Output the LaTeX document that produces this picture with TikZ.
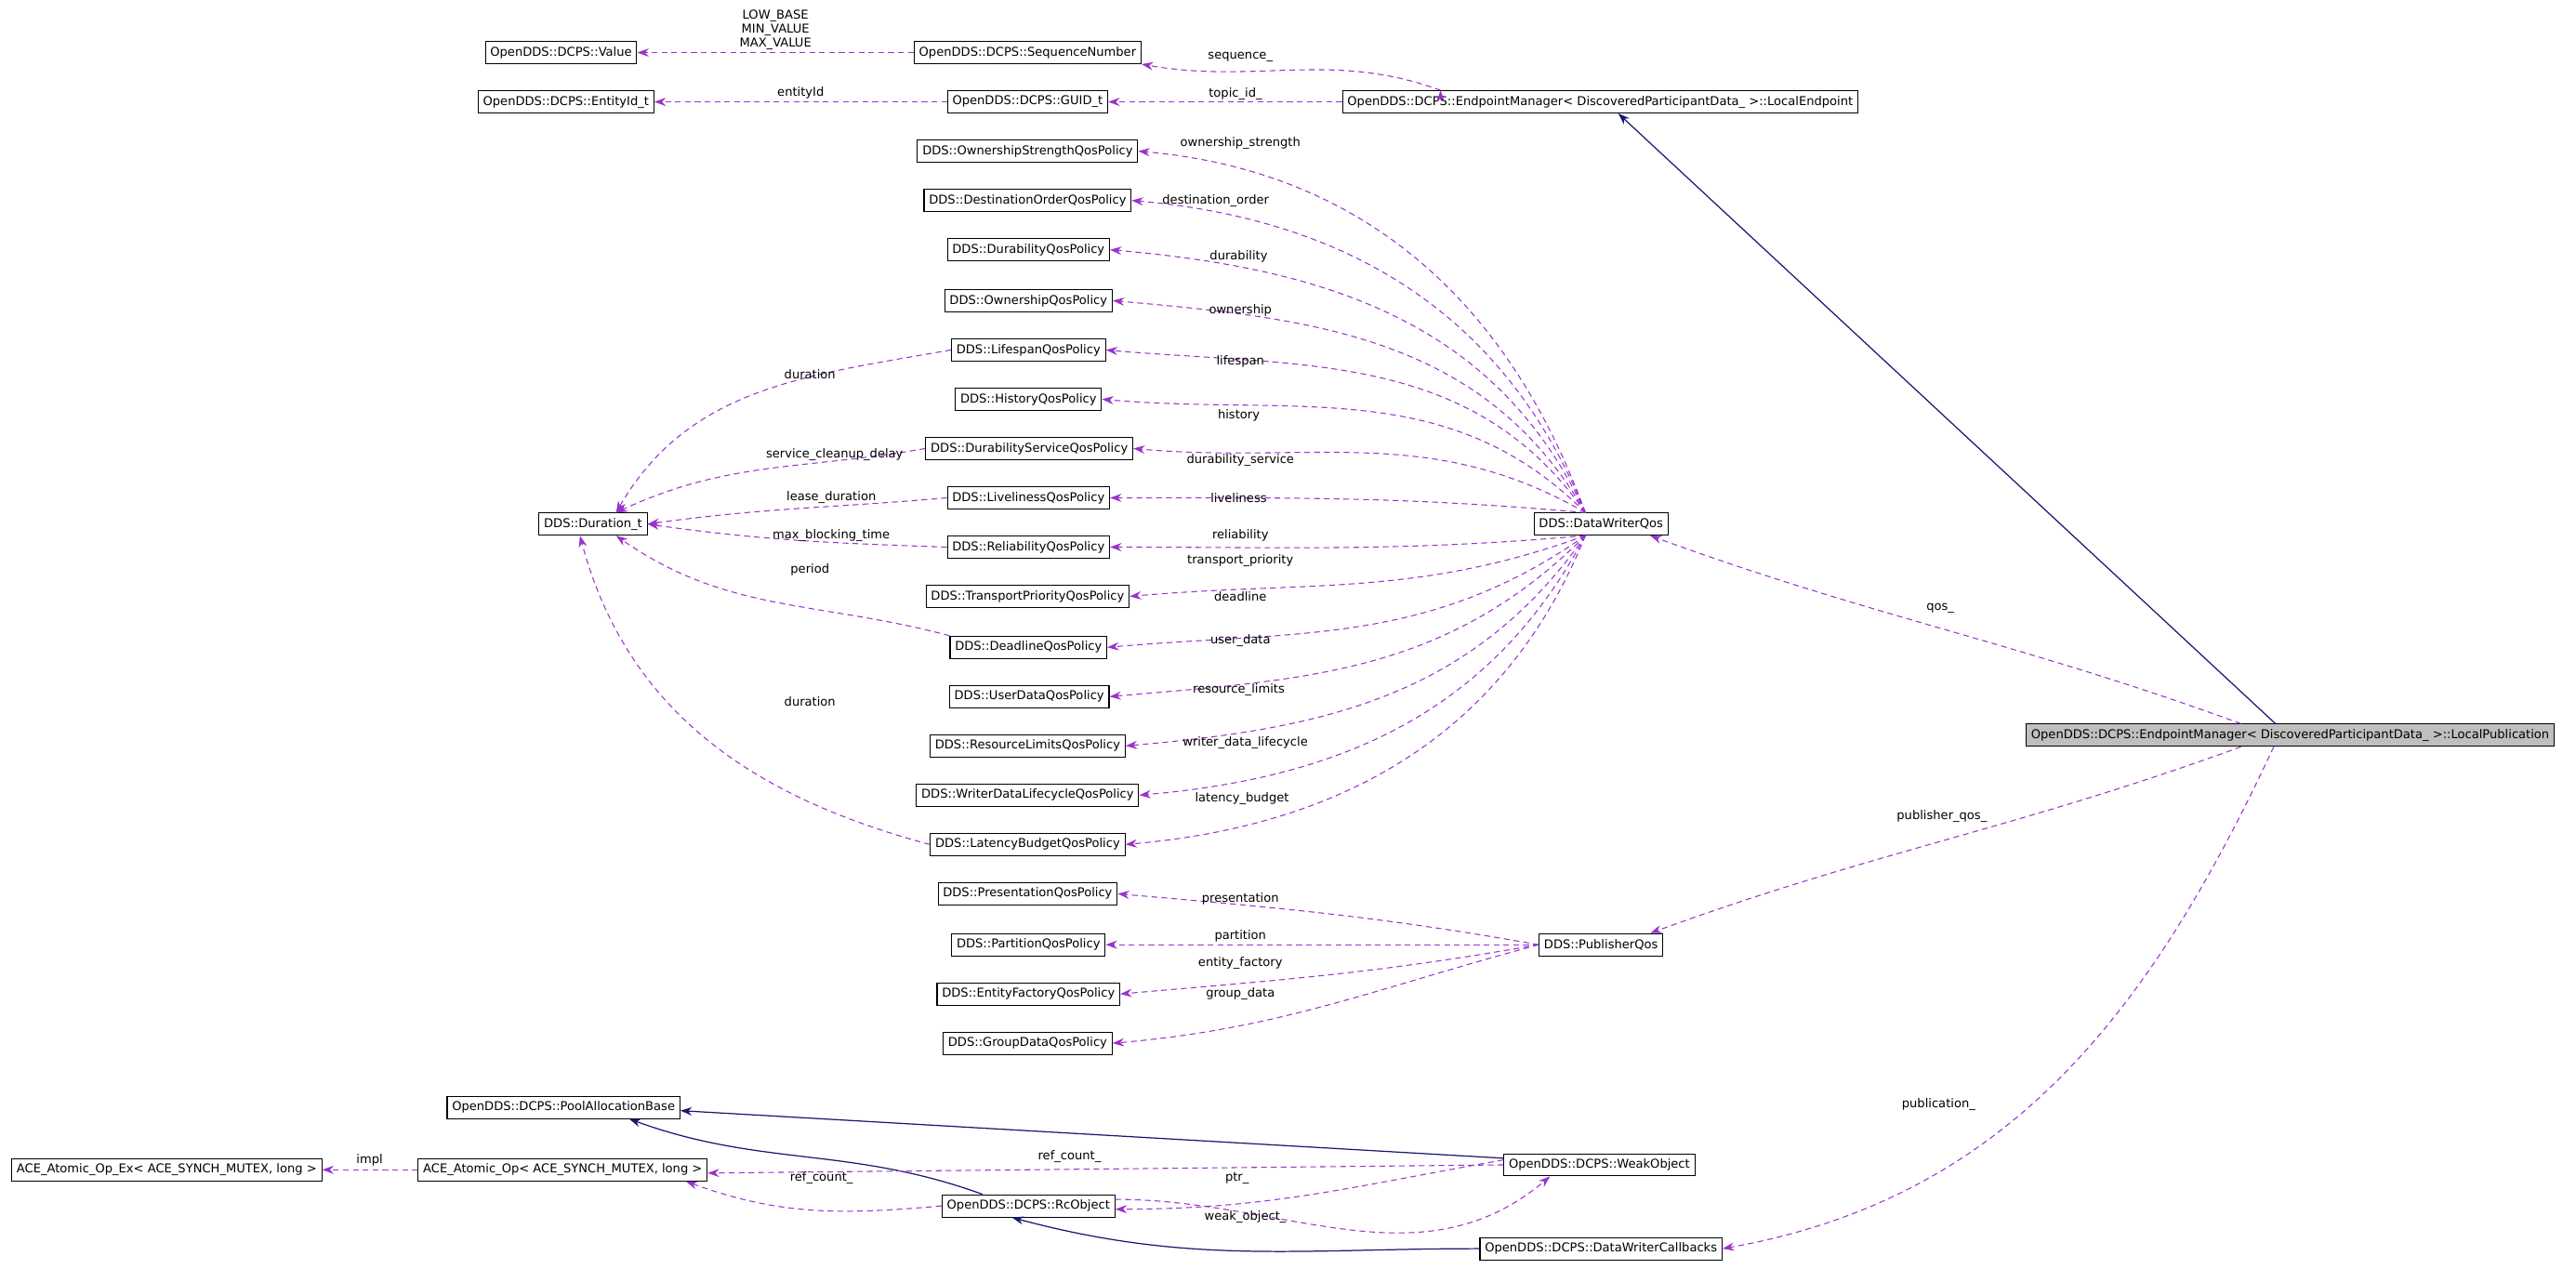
\documentclass[tikz,border=0pt]{standalone}
\usepackage{fontspec}
\setmainfont{DejaVu Sans}
\usetikzlibrary{arrows.meta}
\definecolor{usec}{HTML}{9A32CD}
\definecolor{inhc}{HTML}{191970}
\tikzset{
 box/.style={draw=black,line width=0.6pt,minimum height=13.5pt,inner xsep=3pt,inner ysep=1pt,font=\fontsize{7.4}{8.5}\selectfont,fill=white},
 use/.style={draw=usec,dashed,dash pattern=on 3.5pt off 2.5pt,line width=0.6pt,-{Stealth[length=7pt,width=5pt]},fill=none},
 inh/.style={draw=inhc,line width=0.7pt,-{Stealth[length=7pt,width=5pt]}},
 lab/.style={font=\fontsize{7.4}{8.5}\selectfont,inner sep=0.5pt,align=center}
}
\begin{document}
\begin{tikzpicture}[x=1pt,y=-1pt]
\useasboundingbox (0,0) rectangle (1568,772);
\node[box] (val) at (341.5,32) {OpenDDS::DCPS::Value};
\node[box] (seq) at (625.5,32) {OpenDDS::DCPS::SequenceNumber};
\node[box] (eid) at (344.5,62) {OpenDDS::DCPS::EntityId\_t};
\node[box] (guid) at (625.5,62) {OpenDDS::DCPS::GUID\_t};
\node[box] (lep) at (974,62) {OpenDDS::DCPS::EndpointManager< DiscoveredParticipantData\_ >::LocalEndpoint};
\node[box] (p1) at (625.5,92) {DDS::OwnershipStrengthQosPolicy};
\node[box] (p2) at (625.5,122) {DDS::DestinationOrderQosPolicy};
\node[box] (p3) at (626,152) {DDS::DurabilityQosPolicy};
\node[box] (p4) at (626,183) {DDS::OwnershipQosPolicy};
\node[box] (p5) at (626,213) {DDS::LifespanQosPolicy};
\node[box] (p6) at (626,243) {DDS::HistoryQosPolicy};
\node[box] (p7) at (626.5,273) {DDS::DurabilityServiceQosPolicy};
\node[box] (p8) at (626,303) {DDS::LivelinessQosPolicy};
\node[box] (p9) at (626,333) {DDS::ReliabilityQosPolicy};
\node[box] (p10) at (625.5,363) {DDS::TransportPriorityQosPolicy};
\node[box] (p11) at (626,394) {DDS::DeadlineQosPolicy};
\node[box] (p12) at (626.5,424) {DDS::UserDataQosPolicy};
\node[box] (p13) at (625.5,454) {DDS::ResourceLimitsQosPolicy};
\node[box] (p14) at (625.5,484) {DDS::WriterDataLifecycleQosPolicy};
\node[box] (p15) at (625.5,514) {DDS::LatencyBudgetQosPolicy};
\node[box] (dur) at (361,319) {DDS::Duration\_t};
\node[box] (dwq) at (974.5,319) {DDS::DataWriterQos};
\node[box,fill={rgb,255:red,191;green,191;blue,191}] (lpub) at (1394,447.5) {OpenDDS::DCPS::EndpointManager< DiscoveredParticipantData\_ >::LocalPublication};
\node[box] (q1) at (625.5,544) {DDS::PresentationQosPolicy};
\node[box] (q2) at (626,575) {DDS::PartitionQosPolicy};
\node[box] (q3) at (626,605) {DDS::EntityFactoryQosPolicy};
\node[box] (q4) at (625.5,635) {DDS::GroupDataQosPolicy};
\node[box] (pub) at (974.5,575) {DDS::PublisherQos};
\node[box] (pool) at (343,674) {OpenDDS::DCPS::PoolAllocationBase};
\node[box] (aex) at (101.5,712) {ACE\_Atomic\_Op\_Ex< ACE\_SYNCH\_MUTEX, long >};
\node[box] (aop) at (342.5,712) {ACE\_Atomic\_Op< ACE\_SYNCH\_MUTEX, long >};
\node[box] (rc) at (626,734) {OpenDDS::DCPS::RcObject};
\node[box] (weak) at (973.5,709) {OpenDDS::DCPS::WeakObject};
\node[box] (dwc) at (974.5,760) {OpenDDS::DCPS::DataWriterCallbacks};

% top
\draw[use] (seq) -- (val) node[lab,midway,above=1pt] {LOW\_BASE\\MIN\_VALUE\\MAX\_VALUE};
\draw[use] (guid) -- (eid) node[lab,midway,above=1pt] {entityId};
\draw[use] (lep.north west) ++(60,0) coordinate (lepa);
\draw[use] (lepa) to[out=160,in=-10] (seq.south east);
\node[lab] at (755,35) {sequence\_};
\draw[use] (lep) -- (guid);
\node[lab] at (752,57) {topic\_id\_};
\draw[inh] (lpub.north) ++(-9,0) coordinate (lpa) (lpa) -- ([xshift=11pt]lep.south);

% dwq fan
\coordinate (dwa) at (965,312);
\coordinate (dwb) at (965,326);
\draw[use] (dwa) to[out=110,in=-5] (p1.east) ; \node[lab] at (755,87) {ownership\_strength};
\draw[use] (dwa) to[out=112,in=-5] (p2.east) ; \node[lab] at (740,122) {destination\_order};
\draw[use] (dwa) to[out=115,in=-5] (p3.east) ; \node[lab] at (754,156) {durability};
\draw[use] (dwa) to[out=120,in=-5] (p4.east) ; \node[lab] at (755,189) {ownership};
\draw[use] (dwa) to[out=125,in=-5] (p5.east) ; \node[lab] at (755,220) {lifespan};
\draw[use] (dwa) to[out=135,in=-5] (p6.east) ; \node[lab] at (754,253) {history};
\draw[use] (dwa) to[out=150,in=-5] (p7.east) ; \node[lab] at (755,280) {durability\_service};
\draw[use] (dwa) to[out=175,in=0] (p8.east) ; \node[lab] at (754,303) {liveliness};
\draw[use] (dwb) to[out=185,in=0] (p9.east) ; \node[lab] at (755,326) {reliability};
\draw[use] (dwb) to[out=200,in=5] (p10.east) ; \node[lab] at (755,341) {transport\_priority};
\draw[use] (dwb) to[out=215,in=5] (p11.east) ; \node[lab] at (755,363) {deadline};
\draw[use] (dwb) to[out=225,in=5] (p12.east) ; \node[lab] at (755,390) {user\_data};
\draw[use] (dwb) to[out=235,in=5] (p13.east) ; \node[lab] at (754,420) {resource\_limits};
\draw[use] (dwb) to[out=242,in=5] (p14.east) ; \node[lab] at (758,452) {writer\_data\_lifecycle};
\draw[use] (dwb) to[out=248,in=5] (p15.east) ; \node[lab] at (756,486) {latency\_budget};

% durations
\coordinate (dua) at (375,312);
\draw[use] (p5.west) to[out=190,in=60] (dua); \node[lab] at (493,228) {duration};
\draw[use] (p7.west) to[out=190,in=25] (dua); \node[lab] at (508,277) {service\_cleanup\_delay};
\draw[use] (p8.west) to[out=185,in=8] (dur.east); \node[lab] at (506,303) {lease\_duration};
\draw[use] (p9.west) to[out=178,in=-8] (dur.east); \node[lab] at (506,326) {max\_blocking\_time};
\draw[use] (p11.north west) to[out=165,in=-35] ([xshift=14pt]dur.south); \node[lab] at (493,347) {period};
\draw[use] (p15.west) to[out=165,in=-75] ([xshift=-8pt]dur.south); \node[lab] at (493,427) {duration};

% publication
\draw[use] ([xshift=-30pt]lpub.north) to[out=160,in=-20] ([xshift=30pt]dwq.south); \node[lab] at (1181,370) {qos\_};
\draw[use] ([xshift=-30pt]lpub.south) to[out=200,in=20] ([xshift=30pt]pub.north); \node[lab] at (1182,497) {publisher\_qos\_};
\draw[use] ([xshift=-10pt]lpub.south) to[out=-115,in=10] (dwc.east); \node[lab] at (1180,672) {publication\_};

\draw[use] (pub.west) to[out=170,in=-5] (q1.east); \node[lab] at (755,547) {presentation};
\draw[use] (pub.west) -- (q2.east); \node[lab] at (755,570) {partition};
\draw[use] (pub.west) to[out=190,in=5] (q3.east); \node[lab] at (755,586) {entity\_factory};
\draw[use] (pub.west) to[out=195,in=5] (q4.east); \node[lab] at (755,605) {group\_data};

% bottom
\draw[use] (aop) -- (aex); \node[lab] at (225,706) {impl};
\draw[inh] (weak.north west) ++(0,3) coordinate (wa) (wa) -- ([yshift=-2pt]pool.east);
\draw[inh] (rc.north west) ++(25,0) coordinate (ra) (ra) to[out=160,in=-20] ([xshift=40pt]pool.south);
\draw[use] (weak.west) -- ([yshift=-2pt]aop.east); \node[lab] at (651,704) {ref\_count\_};
\draw[use] (rc.west) to[out=185,in=-20] ([xshift=75pt]aop.south); \node[lab] at (500,717) {ref\_count\_};
\draw[use] ([yshift=3pt]weak.west) to[out=190,in=0] ([yshift=-2pt]rc.east); \node[lab] at (753,717) {ptr\_};
\draw[use] ([yshift=4pt]rc.east) to[out=0,in=-140] ([xshift=-30pt]weak.south); \node[lab] at (758,741) {weak\_object\_};
\draw[inh] (dwc.west) to[out=180,in=-15] ([xshift=-10pt]rc.south);
\end{tikzpicture}
\end{document}
